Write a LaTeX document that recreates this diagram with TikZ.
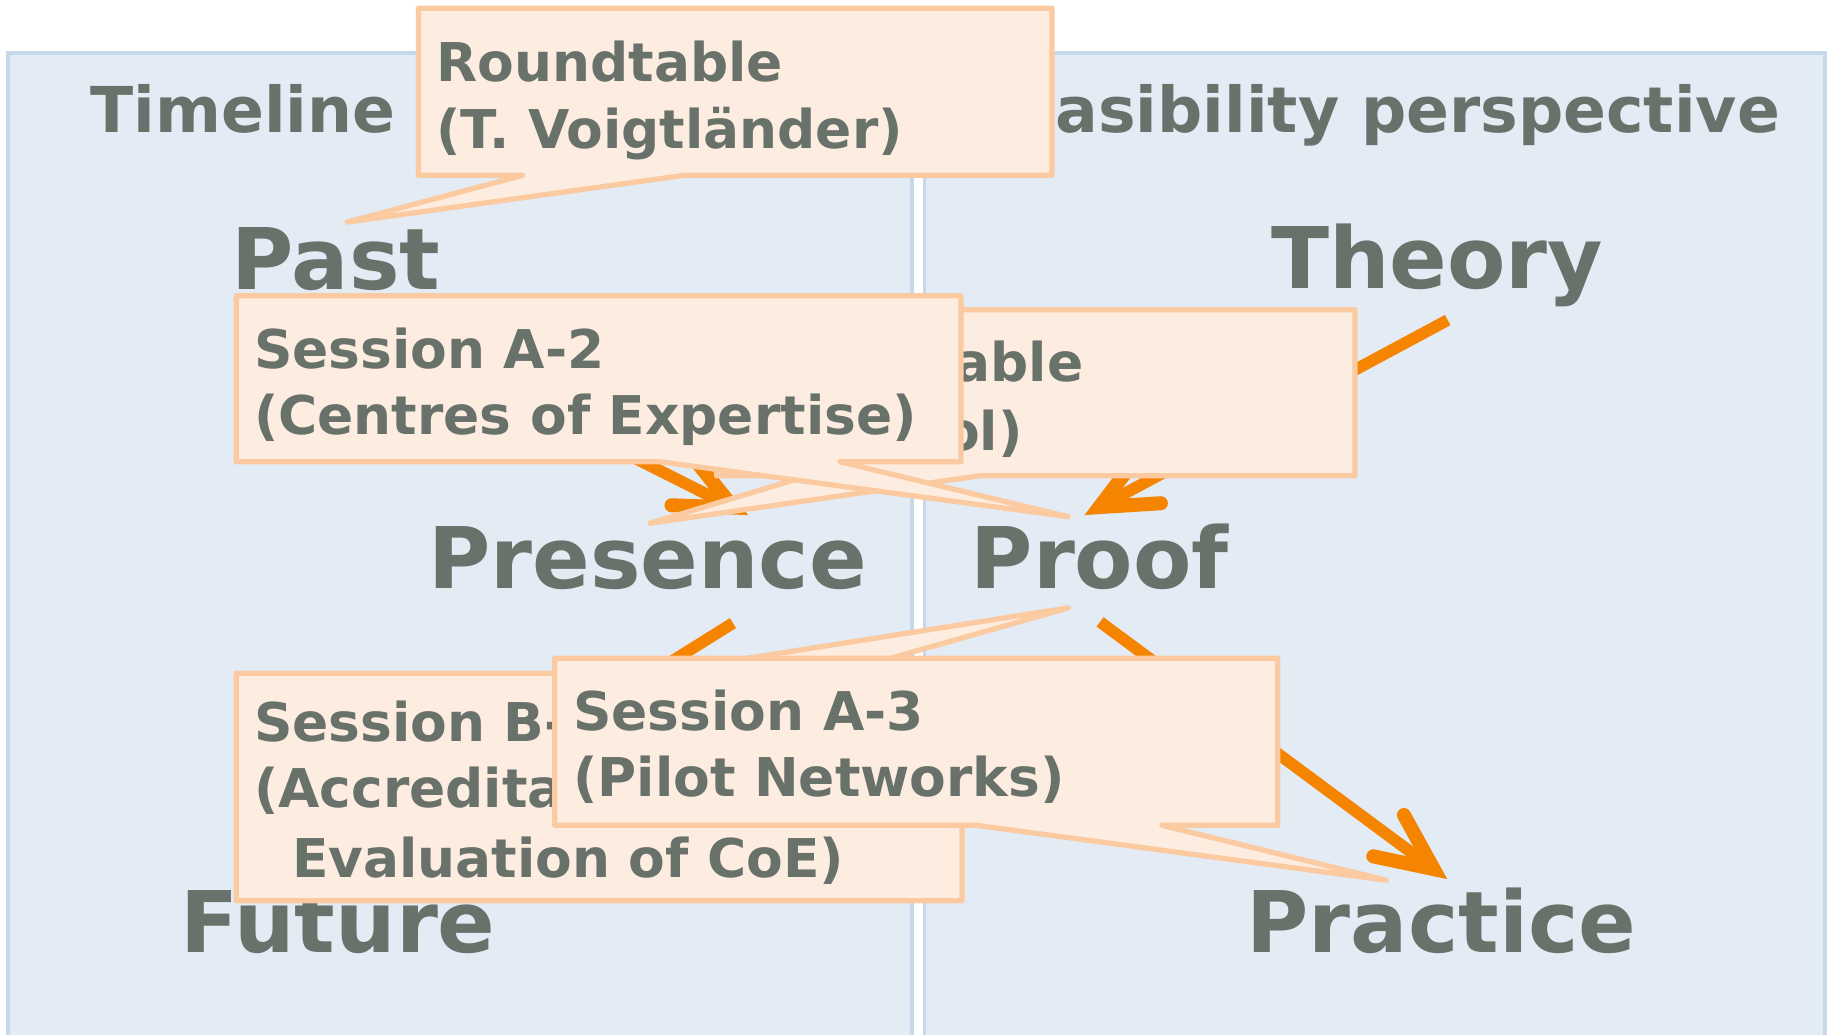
\documentclass[tikz,border=0pt]{standalone}
\usepackage{fontspec}
\setmainfont{DejaVu Sans}
\usetikzlibrary{arrows.meta}
\definecolor{panelfill}{HTML}{E3EBF5}
\definecolor{paneldraw}{HTML}{C6D8EC}
\definecolor{boxfill}{HTML}{FDEDE0}
\definecolor{boxdraw}{HTML}{FBCAA0}
\definecolor{txtc}{HTML}{68716A}
\definecolor{orng}{HTML}{F58400}
\begin{document}
\begin{tikzpicture}[x=0.02cm,y=-0.02cm,
  panel/.style={fill=panelfill,draw=paneldraw,line width=0.06cm},
  callout/.style={fill=boxfill,draw=boxdraw,line width=0.09cm,line join=round,line cap=round},
  big/.style={anchor=base west,inner sep=0,text=txtc,font=\bfseries\fontsize{41.4}{48}\selectfont},
  ttl/.style={anchor=base west,inner sep=0,text=txtc,font=\bfseries\fontsize{30.8}{36}\selectfont},
  ttlr/.style={anchor=base east,inner sep=0,text=txtc,font=\bfseries\fontsize{30.8}{36}\selectfont},
  btxt/.style={anchor=base west,inner sep=0,text=txtc,font=\bfseries\fontsize{26}{31}\selectfont},
  arr/.style={draw=orng,line width=0.2cm,-{Straight Barb[length=0.96cm,width=0.88cm,line width=0.04cm 1,line cap=round,line join=miter]}}]
\useasboundingbox (0,0) rectangle (1568,885);
\clip (0,0) rectangle (1568,885);
% panels
\draw[panel] (7,45.5) rectangle (780,910);
\draw[panel] (791,45.5) rectangle (1561,910);
\node[ttl] (tl) at (77,113) {Timeline};
\node[ttlr] (fp) at (1523,113) {Feasibility perspective};
% big words
\node[big] (past) at (198,248) {Past};
\node[big] (theory) at (1087,247) {Theory};
\node[big] (presence) at (366,503) {Presence};
\node[big] (proof) at (830,503) {Proof};
\node[big] (future) at (154,815) {Future};
\node[big] (practice) at (1066,815) {Practice};
% arrows
\coordinate (a1s) at (420,330);   \coordinate (a1e) at (640,440.6);
\coordinate (a2s) at (1238.4,273.8); \coordinate (a2e) at (927.7,440.6);
\coordinate (a3s) at (627,533);   \coordinate (a3e) at (387,683);
\coordinate (a4s) at (941,532);   \coordinate (a4e) at (1238,752);
\draw[arr] (a1s) -- (a1e);
\draw[arr] (a2s) -- (a2e);
\draw[arr] (a3s) -- (a3e);
\draw[arr] (a4s) -- (a4e);
% hidden roundtable callout
\draw[callout] (613,265) -- (1159,265) -- (1159,407) -- (838,407) -- (556,447.6) -- (691,407) -- (613,407) -- cycle;
\node[btxt,anchor=base east] (h1) at (927,326.5) {Roundtable};
\node[btxt,anchor=base east] (h2) at (875,385) {(Protocol)};
% top roundtable callout
\draw[callout] (358,7) -- (900,7) -- (900,150) -- (585,150) -- (297,190) -- (447,150) -- (358,150) -- cycle;
\node[btxt] (r1) at (373,69.3) {Roundtable};
\node[btxt] (r2) at (373,126.8) {(T. Voigtländer)};
% session A-2
\draw[callout] (202,253) -- (822,253) -- (822,395) -- (718.5,395) -- (913.6,442) -- (564.6,395) -- (202,395) -- cycle;
\node[btxt] (s1) at (217,315) {Session A-2};
\node[btxt] (s2) at (217,372) {(Centres of Expertise)};
% session B
\draw[callout] (202,576) -- (557,576) -- (914,520) -- (716,576) -- (823,576) -- (823,770.5) -- (202,770.5) -- cycle;
\node[btxt] (b1) at (217,634.5) {Session B-2};
\node[btxt] (b2) at (217,691) {(Accreditation and};
\node[btxt] (b3) at (249.5,751) {Evaluation of CoE)};
% session A-3
\draw[callout] (474.5,563) -- (1093,563) -- (1093,706) -- (994,706) -- (1186,753) -- (835,706) -- (474.5,706) -- cycle;
\node[btxt] (t1) at (490,624.5) {Session A-3};
\node[btxt] (t2) at (490,681.5) {(Pilot Networks)};
\end{tikzpicture}
\end{document}
